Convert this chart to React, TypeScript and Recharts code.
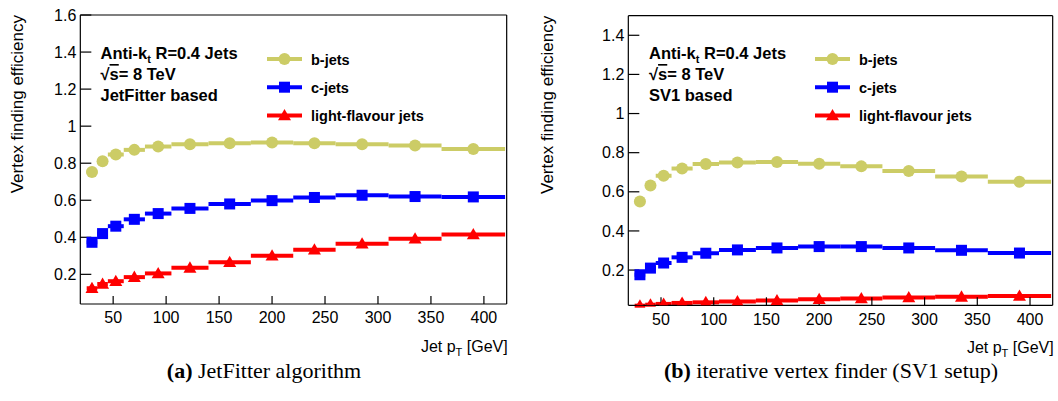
import React from 'react';
import { ComposedChart, Scatter, XAxis, YAxis, ErrorBar, Legend } from 'recharts';

const FONT = '"Liberation Sans", Arial, Helvetica, sans-serif';
const SERIF = '"Liberation Serif", "Times New Roman", serif';

// pT bins (GeV)
const binEdges = [25, 35, 45, 60, 80, 105, 140, 180, 220, 260, 310, 360, 420];
const binCenters = [30, 40, 52.5, 70, 92.5, 122.5, 160, 200, 240, 285, 335, 390];

const seriesNames = ['b-jets', 'c-jets', 'light-flavour jets'];
const seriesColors = ['#cccc66', '#0000ff', '#ff0000'];
const seriesMarkers = ['circle', 'square', 'triangle'];

// (a) JetFitter
const jetFitterB = [0.753, 0.81, 0.847, 0.872, 0.89, 0.902, 0.908, 0.912, 0.908, 0.902, 0.895, 0.877];
const jetFitterC = [0.373, 0.42, 0.46, 0.497, 0.528, 0.556, 0.58, 0.598, 0.615, 0.627, 0.62, 0.618];
const jetFitterL = [0.125, 0.148, 0.163, 0.185, 0.205, 0.235, 0.265, 0.3, 0.333, 0.365, 0.392, 0.415];

// (b) SV1
const sv1B = [0.551, 0.632, 0.682, 0.719, 0.742, 0.75, 0.752, 0.743, 0.73, 0.706, 0.678, 0.651];
const sv1C = [0.176, 0.21, 0.236, 0.265, 0.286, 0.303, 0.313, 0.32, 0.32, 0.313, 0.301, 0.287];
const sv1L = [0.018, 0.023, 0.027, 0.032, 0.035, 0.039, 0.045, 0.051, 0.055, 0.06, 0.063, 0.068];

const xDomain = [19, 421.5];
const xMajorTicks = [50, 100, 150, 200, 250, 300, 350, 400];
const xMinorTicks = [20, 30, 40, 50, 60, 70, 80, 90, 100, 110, 120, 130, 140, 150, 160, 170, 180, 190, 200, 210, 220, 230, 240, 250, 260, 270, 280, 290, 300, 310, 320, 330, 340, 350, 360, 370, 380, 390, 400, 410, 420];

const jfYDomain = [0.04, 1.6];
const jfYTicks = [0.2, 0.4, 0.6, 0.8, 1, 1.2, 1.4, 1.6];
const jfYMinorTicks = [0.05, 0.1, 0.15, 0.2, 0.25, 0.3, 0.35, 0.4, 0.45, 0.5, 0.55, 0.6, 0.65, 0.7, 0.75, 0.8, 0.85, 0.9, 0.95, 1, 1.05, 1.1, 1.15, 1.2, 1.25, 1.3, 1.35, 1.4, 1.45, 1.5, 1.55, 1.6];

const svYDomain = [0.02, 1.5];
const svYTicks = [0.2, 0.4, 0.6, 0.8, 1, 1.2, 1.4];
const svYMinorTicks = [0.05, 0.1, 0.15, 0.2, 0.25, 0.3, 0.35, 0.4, 0.45, 0.5, 0.55, 0.6, 0.65, 0.7, 0.75, 0.8, 0.85, 0.9, 0.95, 1, 1.05, 1.1, 1.15, 1.2, 1.25, 1.3, 1.35, 1.4, 1.45, 1.5];

const AX = 0.01; // near-zero axis thickness so margins define the frame

function makeRows(vals: number[]) {
  return binCenters.map((x, i) => ({
    x,
    y: vals[i],
    xerr: [x - binEdges[i], binEdges[i + 1] - x],
  }));
}

function Marker({ kind, cx, cy, color }: { kind: string; cx: number; cy: number; color: string }) {
  if (kind === 'circle') return <circle cx={cx} cy={cy} r={6} fill={color} />;
  if (kind === 'square') return <rect x={cx - 5.5} y={cy - 5.5} width={11} height={11} fill={color} />;
  return <polygon points={`${cx},${cy - 6.5} ${cx - 6.5},${cy + 4.8} ${cx + 6.5},${cy + 4.8}`} fill={color} />;
}

const axisStroke = { stroke: '#000', strokeWidth: 1.2 };
const tickFont = { fontSize: 16, fill: '#000', fontFamily: FONT };

function LegendBox() {
  return (
    <svg width={260} height={90} style={{ overflow: 'visible' }}>
      {seriesNames.map((name, i) => {
        const cy = 14 + i * 28.2;
        return (
          <g key={name}>
            <line x1={5} x2={40} y1={cy} y2={cy} stroke={seriesColors[i]} strokeWidth={4} />
            <Marker kind={seriesMarkers[i]} cx={22.5} cy={cy} color={seriesColors[i]} />
            <text x={49} y={cy + 5.5} fontFamily={FONT} fontWeight="bold" fontSize={14.5} fill="#000">
              {name}
            </text>
          </g>
        );
      })}
    </svg>
  );
}

function XTitle(props: any) {
  const vb = props.viewBox || {};
  return (
    <text x={vb.x + vb.width + 1} y={vb.y + 48} textAnchor="end" fontFamily={FONT} fontSize={16} fill="#000">
      Jet p
      <tspan dy={4} fontSize={11}>T</tspan>
      <tspan dy={-4}> [GeV]</tspan>
    </text>
  );
}

function YTitle(props: any) {
  const vb = props.viewBox || {};
  const x = 23;
  const y = vb.y;
  return (
    <text x={x} y={y} transform={`rotate(-90 ${x} ${y})`} textAnchor="end" fontFamily={FONT} fontSize={17} fill="#000">
      Vertex finding efficiency
    </text>
  );
}

function Panel({ width, height, margin, yDomain, yTicks, yMinorTicks, series, legendLeft }: any) {
  return (
    <ComposedChart width={width} height={height} margin={margin}>
      <XAxis xAxisId="xMinor" type="number" dataKey="x" domain={xDomain} allowDataOverflow ticks={xMinorTicks} interval={0}
        height={AX} tick={false} tickSize={-4} axisLine={false} tickLine={axisStroke} />
      <XAxis xAxisId="x" type="number" dataKey="x" domain={xDomain} allowDataOverflow ticks={xMajorTicks} interval={0}
        height={AX} tick={tickFont} tickSize={-8} tickMargin={16} axisLine={axisStroke} tickLine={axisStroke}
        label={(p: any) => <XTitle {...p} />} />
      <XAxis xAxisId="xTopMinor" orientation="top" type="number" dataKey="x" domain={xDomain} allowDataOverflow ticks={xMinorTicks} interval={0}
        height={AX} tick={false} tickSize={-4} axisLine={false} tickLine={axisStroke} />
      <XAxis xAxisId="xTop" orientation="top" type="number" dataKey="x" domain={xDomain} allowDataOverflow ticks={xMajorTicks} interval={0}
        height={AX} tick={false} tickSize={-8} axisLine={axisStroke} tickLine={axisStroke} />
      <YAxis yAxisId="yMinor" type="number" dataKey="y" domain={yDomain} allowDataOverflow ticks={yMinorTicks} interval={0}
        width={AX} tick={false} tickSize={-5.5} axisLine={false} tickLine={axisStroke} />
      <YAxis yAxisId="y" type="number" dataKey="y" domain={yDomain} allowDataOverflow ticks={yTicks} interval={0}
        width={AX} tick={tickFont} tickSize={-11} tickMargin={15} axisLine={axisStroke} tickLine={axisStroke}
        label={(p: any) => <YTitle {...p} />} />
      <YAxis yAxisId="yRightMinor" orientation="right" type="number" dataKey="y" domain={yDomain} allowDataOverflow ticks={yMinorTicks} interval={0}
        width={AX} tick={false} tickSize={-5.5} axisLine={false} tickLine={axisStroke} />
      <YAxis yAxisId="yRight" orientation="right" type="number" dataKey="y" domain={yDomain} allowDataOverflow ticks={yTicks} interval={0}
        width={AX} tick={false} tickSize={-11} axisLine={axisStroke} tickLine={axisStroke} />
      {series.map((vals: number[], i: number) => (
        <Scatter key={seriesNames[i]} name={seriesNames[i]} data={makeRows(vals)} xAxisId="x" yAxisId="y" dataKey="y"
          fill={seriesColors[i]} isAnimationActive={false}
          shape={(p: any) => <Marker kind={seriesMarkers[i]} cx={p.cx} cy={p.cy} color={seriesColors[i]} />}>
          <ErrorBar dataKey="xerr" direction="x" width={0} strokeWidth={4} stroke={seriesColors[i]} isAnimationActive={false} />
        </Scatter>
      ))}
      <Legend layout="vertical" align="center" verticalAlign="middle"
        wrapperStyle={{ left: legendLeft, top: 44.6, width: 260, height: 90 }}
        content={() => <LegendBox />} />
    </ComposedChart>
  );
}

function Annotation({ x, third }: { x: number; third: string }) {
  return (
    <g fontFamily={FONT} fontWeight="bold" fontSize={16.5} fill="#000">
      <text x={x} y={59.3}>
        Anti-k<tspan dy={4} fontSize={11}>t</tspan><tspan dy={-4}> R=0.4 Jets</tspan>
      </text>
      <text x={x} y={80}>
        √<tspan style={{ textDecoration: 'overline' }}>s</tspan>= 8 TeV
      </text>
      <text x={x} y={100.7}>{third}</text>
    </g>
  );
}

export default function App() {
  return (
    <div style={{ position: 'absolute', left: 0, top: 0, width: 1058, height: 401, background: '#fff' }}>
      <div style={{ position: 'absolute', left: 0, top: 0 }}>
        <Panel width={530} height={360} margin={{ top: 15, left: 80.3, right: 23.3, bottom: 56 }}
          yDomain={jfYDomain} yTicks={jfYTicks} yMinorTicks={jfYMinorTicks}
          series={[jetFitterB, jetFitterC, jetFitterL]} legendLeft={262} />
      </div>
      <div style={{ position: 'absolute', left: 530, top: 0 }}>
        <Panel width={528} height={360} margin={{ top: 15.7, left: 98.3, right: 5.3, bottom: 54.7 }}
          yDomain={svYDomain} yTicks={svYTicks} yMinorTicks={svYMinorTicks}
          series={[sv1B, sv1C, sv1L]} legendLeft={280} />
      </div>
      <svg width={1058} height={401} style={{ position: 'absolute', left: 0, top: 0, pointerEvents: 'none' }}>
        <Annotation x={100.5} third="JetFitter based" />
        <Annotation x={649} third="SV1 based" />
        <text x={264} y={378} textAnchor="middle" fontFamily={SERIF} fontSize={22} fill="#000">
          <tspan fontWeight="bold">(a)</tspan> JetFitter algorithm
        </text>
        <text x={831} y={378} textAnchor="middle" fontFamily={SERIF} fontSize={22} fill="#000">
          <tspan fontWeight="bold">(b)</tspan> iterative vertex finder (SV1 setup)
        </text>
      </svg>
    </div>
  );
}
